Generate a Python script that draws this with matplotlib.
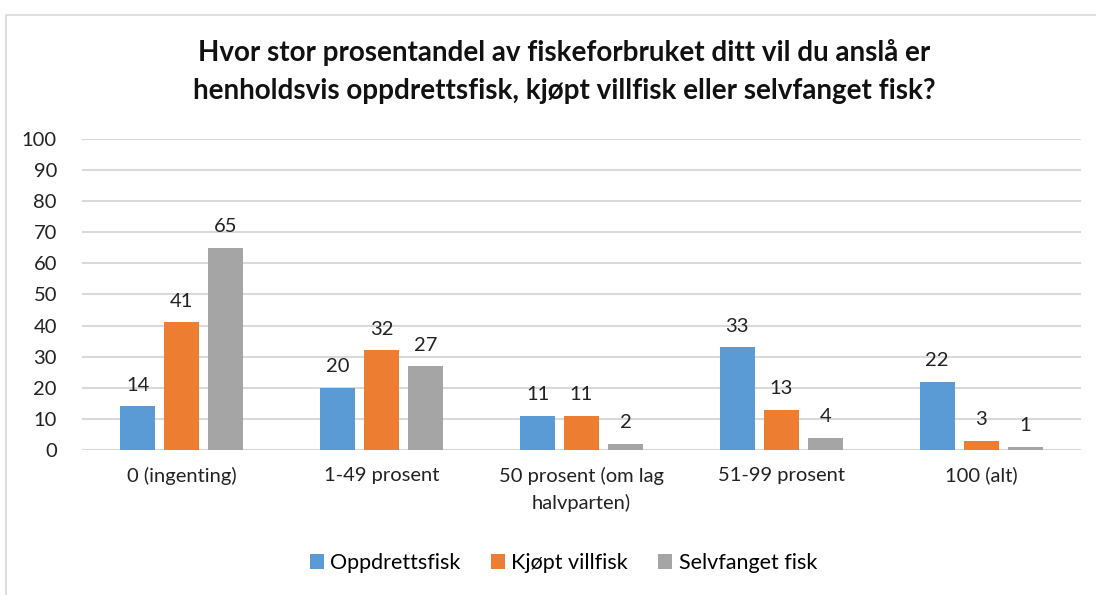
import numpy as np
import matplotlib.pyplot as plt
from matplotlib.patches import Rectangle

# --- data --- #
categories = ["0 (ingenting)", "1-49 prosent", "50 prosent (om lag\nhalvparten)", "51-99 prosent", "100 (alt)"]
series_names = ["Oppdrettsfisk", "Kjøpt villfisk", "Selvfanget fisk"]
oppdrett = [14, 20, 11, 33, 22]
kjopt = [41, 32, 11, 13, 3]
selvfanget = [65, 27, 2, 4, 1]
yticks = list(range(0, 101, 10))
title = ("Hvor stor prosentandel av fiskeforbruket ditt vil du anslå er\n"
         "henholdsvis oppdrettsfisk, kjøpt villfisk eller selvfanget fisk?")

colors = ["#5B9BD5", "#ED7D31", "#A5A5A5"]
plt.rcParams['font.family'] = ['Lato', 'DejaVu Sans']


def plot_chart( output_file ):
	"""! @brief draw grouped bar chart """
	
	fig = plt.figure( figsize=(10.96, 5.95), dpi=100 )
	ax = fig.add_axes( [ 0.0748, 0.2437, 0.9115, 0.5227 ] )
	
	# chart border (cropped screenshot: only top and left visible)
	fig.patches.append( Rectangle( (6/1096, -0.1), 1.2, 1 - 15/595 + 0.1,
			transform=fig.transFigure, fill=False, edgecolor="#D9D9D9", linewidth=1.2 ) )
	
	x = np.arange( len( categories ) )
	width = 0.175
	step = 0.22
	all_values = [ oppdrett, kjopt, selvfanget ]
	for i, vals in enumerate( all_values ):
		pos = x + ( i - 1 ) * step
		bars = ax.bar( pos, vals, width=width, color=colors[i], label=series_names[i], zorder=3 )
		for b, v in zip( bars, vals ):
			ax.annotate( str( v ), ( b.get_x() + b.get_width()/2, v ), xytext=(0, 9),
					textcoords="offset points", ha="center", va="bottom", fontsize=14.5, color="#222222" )
	
	ax.set_xlim( -0.5, len( categories ) - 0.5 )
	ax.set_ylim( 0, 100 )
	ax.set_yticks( yticks )
	ax.yaxis.grid( True, color="#D9D9D9", linewidth=1.5, zorder=0 )
	ax.set_axisbelow( True )
	for s in [ "top", "right", "left", "bottom" ]:
		ax.spines[s].set_visible( False )
	ax.tick_params( axis="both", length=0, labelsize=14.5, labelcolor="#222222" )
	ax.tick_params( axis="y", pad=18 )
	ax.tick_params( axis="x", pad=12 )
	ax.set_xticks( x )
	ax.set_xticklabels( categories, va="top", linespacing=1.6 )
	
	fig.text( 0.515, 1 - 71.5/595, title, ha="center", va="center", fontsize=20,
			fontweight="bold", linespacing=1.55, color="#111111" )
	
	fig.legend( loc="center", bbox_to_anchor=(0.514, 1 - 563/595), ncol=3, frameon=False,
			fontsize=15.5, handlelength=0.65, handleheight=0.65, handletextpad=0.3, columnspacing=1.4 )
	
	fig.savefig( output_file, dpi=100 )


plot_chart( "out.png" )
